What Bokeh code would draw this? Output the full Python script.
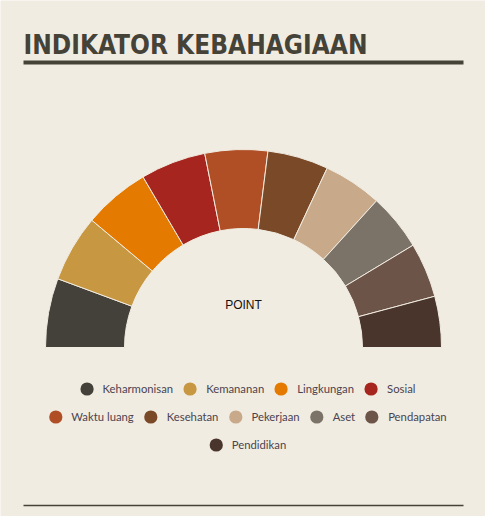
from math import pi

from bokeh.plotting import figure
from bokeh.models import ColumnDataSource, Range1d, Legend, LegendItem, Label
from bokeh.embed import file_html
from bokeh.resources import INLINE

categories = ["Keharmonisan", "Kemananan", "Lingkungan", "Sosial", "Waktu luang",
              "Kesehatan", "Pekerjaan", "Aset", "Pendapatan", "Pendidikan"]
points = [20.3, 19.7, 19.5, 19.2, 18.4, 17.9, 17.2, 16.7, 16.1, 15.0]
colors = ["#44403a", "#c89742", "#e47a00", "#a6251e", "#b04f26",
          "#7a4a28", "#c8a98a", "#7b7268", "#6d5448", "#4a352c"]
legend_rows = [4, 5, 1]  # items per legend row

W, H = 485, 516
BG = "#f1ece1"
DARK = "#454238"
cx, cy = 243, 169
r_out, r_in = 198, 119

# half donut, clockwise from the left
total = sum(points)
starts, ends = [], []
acc = 0
for v in points:
    a0 = pi - acc / total * pi
    acc += v
    a1 = pi - acc / total * pi
    starts.append(a1)
    ends.append(a0)

source = ColumnDataSource(data=dict(
    category=categories, points=points, color=colors, start=starts, end=ends,
))

p = figure(
    width=W, height=H,
    x_range=Range1d(0, W), y_range=Range1d(0, H),
    x_axis_type=None, y_axis_type=None,
    output_backend="svg", toolbar_location=None, min_border=0,
)
p.outline_line_color = None
p.background_fill_color = BG
p.border_fill_color = BG

p.annular_wedge(
    x=cx, y=cy,
    inner_radius=r_in, outer_radius=r_out,
    inner_radius_units="screen", outer_radius_units="screen",
    start_angle="start", end_angle="end",
    fill_color="color", line_color=BG, line_width=1,
    source=source,
)

p.add_layout(Label(
    x=cx, y=cy + 43, text="POINT", text_align="center", text_baseline="middle",
    text_font="Liberation Sans", text_font_size="12px", text_color="#111111",
))

# title + rules
p.add_layout(Label(
    x=23, y=472, text="INDIKATOR KEBAHAGIAAN",
    text_font="DejaVu Sans Condensed", text_font_style="bold",
    text_font_size="26px", text_color=DARK, text_baseline="alphabetic",
))
p.segment(x0=[23], y0=[454], x1=[463], y1=[454], line_width=4, line_color=DARK)
p.segment(x0=[23], y0=[11], x1=[463], y1=[11], line_width=1.5, line_color=DARK)

# legend markers live off-canvas; only their legend glyphs show
dots = [p.scatter(x=[-50], y=[-50], marker="circle", size=14, fill_color=c, line_color=None)
        for c in colors]
margins = [110, 82, 54]
i = 0
for n, m in zip(legend_rows, margins):
    items = [LegendItem(label=categories[k], renderers=[dots[k]]) for k in range(i, i + n)]
    i += n
    leg = Legend(
        items=items, location="bottom_center", orientation="horizontal",
        margin=m, padding=0, spacing=0, label_standoff=0,
        glyph_width=33, glyph_height=35,
        border_line_color=None, background_fill_alpha=0,
        label_text_font="Lato", label_text_font_size="11.3px",
        label_text_color="#4b4350",
    )
    p.add_layout(leg, "center")

open("out.html", "w").write(file_html(p, INLINE))
